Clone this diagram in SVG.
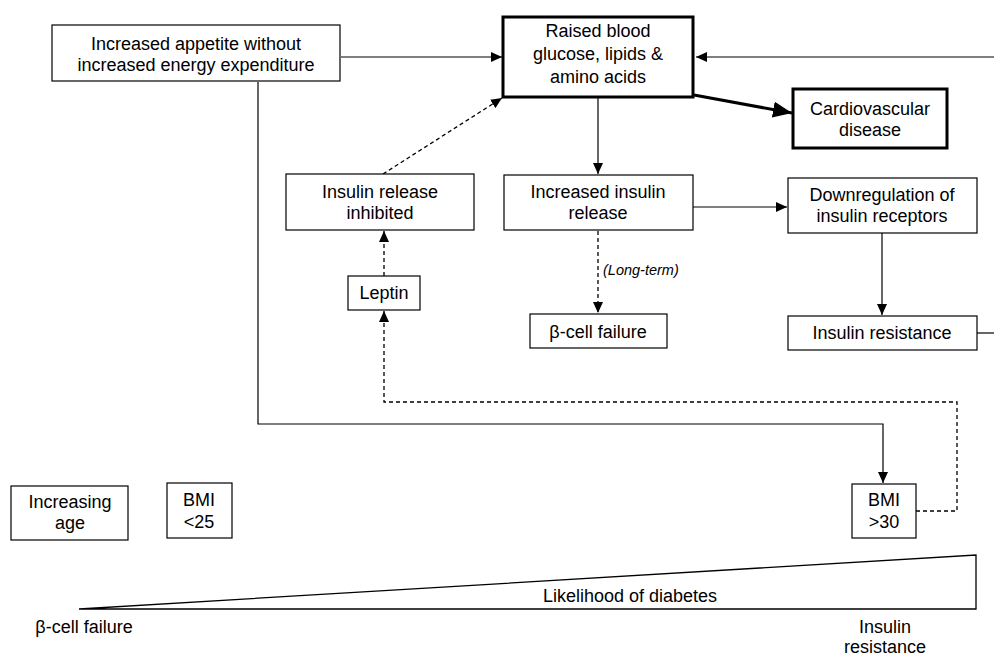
<svg xmlns="http://www.w3.org/2000/svg" width="994" height="656" viewBox="0 0 994 656">
<defs>
<style>
.box{fill:#fff;stroke:#000;stroke-width:1.2}
.thick{fill:#fff;stroke:#000;stroke-width:3}
.t{font-family:"Liberation Sans",Arial,sans-serif;font-size:18px;fill:#000;text-anchor:middle}
.it{font-family:"Liberation Sans",Arial,sans-serif;font-size:14.5px;font-style:italic;fill:#000}
.ln{fill:none;stroke:#000;stroke-width:1.2}
.ds{fill:none;stroke:#000;stroke-width:1.3;stroke-dasharray:4 3}
</style>
<marker id="ah" markerUnits="userSpaceOnUse" markerWidth="12" markerHeight="10" refX="11" refY="5" orient="auto">
<path d="M0,0 L11,5 L0,10 Z" fill="#000"/>
</marker>
<marker id="ahb" markerUnits="userSpaceOnUse" markerWidth="20" markerHeight="16" refX="19" refY="8" orient="auto">
<path d="M0,0 L19,8 L0,16 Z" fill="#000"/>
</marker>
</defs>
<rect width="994" height="656" fill="#fff"/>

<g id="connectors">
<line class="ln" x1="341" y1="57" x2="502" y2="57" marker-end="url(#ah)"/>
<line class="ln" x1="994" y1="57" x2="696" y2="57" marker-end="url(#ah)"/>
<line x1="694" y1="95" x2="792" y2="113" stroke="#000" stroke-width="3" marker-end="url(#ahb)"/>
<line class="ln" x1="598" y1="98" x2="598" y2="174" marker-end="url(#ah)"/>
<line class="ds" x1="383" y1="174" x2="502" y2="98" marker-end="url(#ah)"/>
<line class="ln" x1="693" y1="207" x2="787" y2="207" marker-end="url(#ah)"/>
<line class="ds" x1="598" y1="231" x2="598" y2="313" marker-end="url(#ah)"/>
<text class="it" x="603" y="275">(Long-term)</text>
<line class="ln" x1="882" y1="233" x2="882" y2="315" marker-end="url(#ah)"/>
<line class="ln" x1="977" y1="333" x2="994" y2="333"/>
<line class="ds" x1="384" y1="276" x2="384" y2="231" marker-end="url(#ah)"/>
<polyline class="ds" points="916,511 957,511 957,402 384,402 384,311" marker-end="url(#ah)"/>
<polyline class="ln" points="258,82 258,424 883,424 883,483" marker-end="url(#ah)"/>
</g>

<g id="appetite">
<rect class="box" x="52" y="25" width="288" height="56"/>
<text class="t" x="196" y="50">Increased appetite without</text>
<text class="t" x="196" y="71">increased energy expenditure</text>
</g>
<g id="raised">
<rect class="thick" x="503" y="17" width="190" height="80"/>
<text class="t" x="598" y="37">Raised blood</text>
<text class="t" x="598" y="60">glucose, lipids &amp;</text>
<text class="t" x="598" y="83">amino acids</text>
</g>
<g id="cardio">
<rect class="thick" x="793" y="89" width="154" height="59"/>
<text class="t" x="870" y="115">Cardiovascular</text>
<text class="t" x="870" y="136">disease</text>
</g>
<g id="inhibited">
<rect class="box" x="286" y="174" width="188" height="56"/>
<text class="t" x="380" y="198">Insulin release</text>
<text class="t" x="380" y="219">inhibited</text>
</g>
<g id="increased">
<rect class="box" x="504" y="175" width="189" height="55"/>
<text class="t" x="598" y="198">Increased insulin</text>
<text class="t" x="598" y="219">release</text>
</g>
<g id="downreg">
<rect class="box" x="788" y="178" width="189" height="55"/>
<text class="t" x="882" y="201">Downregulation of</text>
<text class="t" x="882" y="222">insulin receptors</text>
</g>
<g id="leptin">
<rect class="box" x="348" y="276" width="72" height="34"/>
<text class="t" x="384" y="299">Leptin</text>
</g>
<g id="betacell">
<rect class="box" x="530" y="314" width="137" height="34"/>
<text class="t" x="598" y="338">β-cell failure</text>
</g>
<g id="resistance">
<rect class="box" x="788" y="316" width="189" height="34"/>
<text class="t" x="882" y="339">Insulin resistance</text>
</g>
<g id="age">
<rect class="box" x="11" y="486" width="117" height="54"/>
<text class="t" x="70" y="508">Increasing</text>
<text class="t" x="70" y="529">age</text>
</g>
<g id="bmi25">
<rect class="box" x="167" y="483" width="65" height="55"/>
<text class="t" x="199" y="506">BMI</text>
<text class="t" x="199" y="528">&lt;25</text>
</g>
<g id="bmi30">
<rect class="box" x="852" y="484" width="64" height="54"/>
<text class="t" x="884" y="506">BMI</text>
<text class="t" x="884" y="528">&gt;30</text>
</g>
<g id="likelihood">
<polygon points="79,609 976,555 976,609" fill="#fff" stroke="#000" stroke-width="1.3"/>
<text class="t" x="630" y="602">Likelihood of diabetes</text>
</g>
<g id="labels">
<text class="t" x="84" y="633">β-cell failure</text>
<text class="t" x="885" y="633">Insulin</text>
<text class="t" x="885" y="653">resistance</text>
</g>
</svg>
